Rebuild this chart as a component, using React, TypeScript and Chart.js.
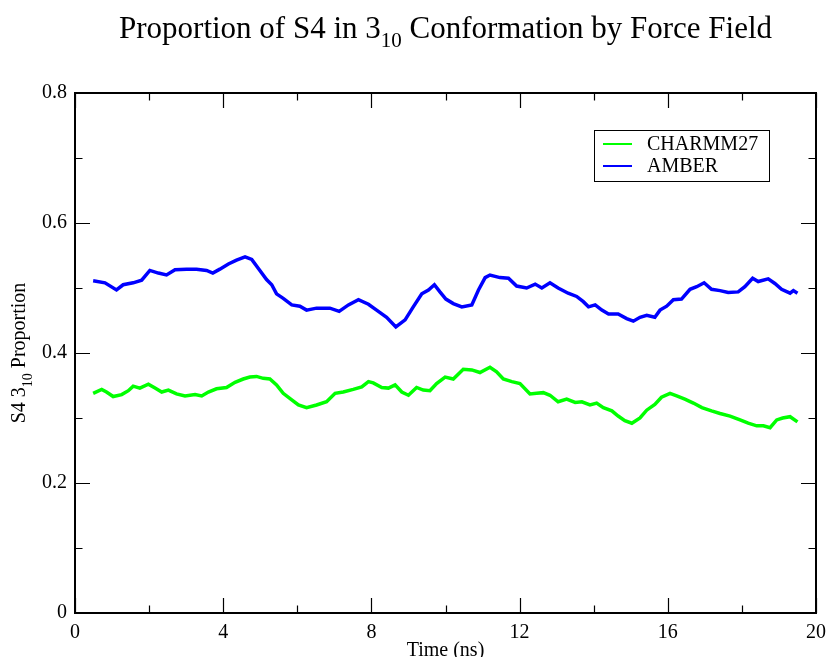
import React, { useEffect, useRef } from 'react';
import { Chart, registerables } from 'chart.js';

Chart.register(...registerables);

const FONT = '"Liberation Serif", "Times New Roman", Times, serif';

// ---- text ----
const titleMain = 'Proportion of S4 in 3';
const titleSub = '10';
const titleRest = ' Conformation by Force Field';
const xAxisLabel = 'Time (ns)';
const yLabelMain = 'S4 3';
const yLabelSub = '10';
const yLabelRest = ' Proportion';
const seriesNames = ['CHARMM27', 'AMBER'];
const seriesColors = ['#00ff00', '#0000ff'];

// ---- ticks ----
const xMajorTicks = [0, 4, 8, 12, 16, 20];
const xMinorTicks = [2, 6, 10, 14, 18];
const yMajorTicks = [0, 0.2, 0.4, 0.6, 0.8];
const yMinorTicks = [0.1, 0.3, 0.5, 0.7];

// ---- data ----
const charmmTime = [
  0.49, 0.72, 0.85, 1.03, 1.26, 1.44, 1.57, 1.75, 1.98, 2.16, 2.34, 2.52, 2.74, 2.97, 3.24, 3.42,
  3.60, 3.82, 4.09, 4.32, 4.54, 4.72, 4.90, 5.08, 5.26, 5.44, 5.62, 5.85, 6.03, 6.25, 6.52, 6.79,
  7.02, 7.24, 7.51, 7.74, 7.92, 8.05, 8.28, 8.46, 8.64, 8.82, 9.00, 9.22, 9.40, 9.58, 9.76, 9.99,
  10.21, 10.48, 10.71, 10.93, 11.20, 11.38, 11.56, 11.79, 12.01, 12.28, 12.46, 12.64, 12.82, 13.04,
  13.27, 13.50, 13.68, 13.90, 14.08, 14.26, 14.49, 14.66, 14.84, 15.03, 15.25, 15.43, 15.65, 15.83,
  16.06, 16.24, 16.46, 16.69, 16.92, 17.18, 17.41, 17.68, 17.95, 18.17, 18.40, 18.58, 18.76, 18.94,
  19.10, 19.30, 19.50,
];
const charmmValue = [
  0.338, 0.344, 0.340, 0.333, 0.336, 0.342, 0.349, 0.346, 0.352, 0.346, 0.340, 0.343, 0.337, 0.334, 0.336, 0.334,
  0.340, 0.345, 0.347, 0.355, 0.360, 0.363, 0.364, 0.361, 0.360, 0.351, 0.338, 0.328, 0.320, 0.316, 0.320, 0.325,
  0.338, 0.340, 0.344, 0.348, 0.356, 0.354, 0.347, 0.346, 0.351, 0.340, 0.335, 0.347, 0.343, 0.342, 0.353, 0.363,
  0.360, 0.375, 0.374, 0.370, 0.378, 0.371, 0.360, 0.356, 0.353, 0.337, 0.338, 0.339, 0.335, 0.325,
  0.329, 0.324, 0.325, 0.320, 0.323, 0.316, 0.311, 0.303, 0.296, 0.292, 0.300, 0.312, 0.321, 0.332,
  0.338, 0.334, 0.329, 0.323, 0.316, 0.311, 0.307, 0.303, 0.297, 0.292, 0.288, 0.288, 0.285, 0.297,
  0.300, 0.302, 0.294,
];

const amberTime = [
  0.49, 0.81, 1.12, 1.30, 1.57, 1.80, 2.02, 2.25, 2.47, 2.70, 3.01, 3.28, 3.55, 3.72, 3.91, 4.14,
  4.36, 4.59, 4.77, 4.95, 5.17, 5.31, 5.44, 5.62, 5.85, 6.07, 6.25, 6.52, 6.88, 7.13, 7.38, 7.65,
  7.92, 8.14, 8.41, 8.66, 8.91, 9.13, 9.36, 9.54, 9.70, 9.85, 10.01, 10.21, 10.44, 10.71, 10.89, 11.07,
  11.20, 11.47, 11.70, 11.92, 12.19, 12.42, 12.60, 12.82, 13.04, 13.31, 13.54, 13.72, 13.86, 14.04,
  14.22, 14.40, 14.66, 14.89, 15.07, 15.25, 15.43, 15.65, 15.79, 15.97, 16.15, 16.37, 16.60, 16.78,
  16.98, 17.18, 17.41, 17.63, 17.90, 18.08, 18.29, 18.44, 18.71, 18.89, 19.07, 19.30, 19.39, 19.50,
];
const amberValue = [
  0.511, 0.508, 0.497, 0.505, 0.508, 0.512, 0.527, 0.523, 0.520, 0.528, 0.529, 0.529, 0.527, 0.523, 0.529, 0.537,
  0.543, 0.548, 0.544, 0.530, 0.513, 0.505, 0.491, 0.484, 0.474, 0.472, 0.466, 0.469, 0.469, 0.464, 0.474, 0.482,
  0.475, 0.466, 0.455, 0.440, 0.451, 0.471, 0.491, 0.497, 0.505, 0.494, 0.483, 0.476, 0.471, 0.474, 0.497, 0.516,
  0.520, 0.516, 0.515, 0.503, 0.500, 0.506, 0.500, 0.508, 0.500, 0.492, 0.487, 0.479, 0.471, 0.474,
  0.466, 0.460, 0.460, 0.453, 0.449, 0.455, 0.458, 0.455, 0.466, 0.472, 0.482, 0.483, 0.498, 0.502,
  0.508, 0.498, 0.496, 0.493, 0.494, 0.502, 0.515, 0.510, 0.514, 0.507, 0.498, 0.492, 0.496, 0.492,
];

const toPoints = (xs: number[], ys: number[]) => xs.map((x, i) => ({ x, y: ys[i] }));

const decorPlugin = {
  id: 'decor',
  afterDraw(chart: any) {
    const ctx: CanvasRenderingContext2D = chart.ctx;
    const { left, right, top, bottom } = chart.chartArea;
    const xs = chart.scales.x;
    const ys = chart.scales.y;
    ctx.save();

    // ticks (inward, all four sides)
    ctx.strokeStyle = '#000';
    ctx.lineWidth = 1.2;
    const major = 15;
    const minor = 7.5;
    const drawX = (v: number, len: number) => {
      const px = Math.round(xs.getPixelForValue(v)) + 0.5;
      ctx.beginPath();
      ctx.moveTo(px, bottom);
      ctx.lineTo(px, bottom - len);
      ctx.moveTo(px, top);
      ctx.lineTo(px, top + len);
      ctx.stroke();
    };
    const drawY = (v: number, len: number) => {
      const py = Math.round(ys.getPixelForValue(v)) + 0.5;
      ctx.beginPath();
      ctx.moveTo(left, py);
      ctx.lineTo(left + len, py);
      ctx.moveTo(right, py);
      ctx.lineTo(right - len, py);
      ctx.stroke();
    };
    xMajorTicks.forEach((v) => drawX(v, major));
    xMinorTicks.forEach((v) => drawX(v, minor));
    yMajorTicks.forEach((v) => drawY(v, major));
    yMinorTicks.forEach((v) => drawY(v, minor));

    // frame
    ctx.lineWidth = 2;
    ctx.strokeRect(left, top, right - left, bottom - top);

    // legend
    ctx.lineWidth = 1;
    ctx.strokeStyle = '#000';
    ctx.strokeRect(594.5, 130.5, 175, 51);
    ctx.font = `20px ${FONT}`;
    ctx.fillStyle = '#000';
    ctx.textBaseline = 'middle';
    ctx.textAlign = 'left';
    const legendY = [144, 166];
    chart.data.datasets.forEach((ds: any, i: number) => {
      ctx.strokeStyle = ds.borderColor;
      ctx.lineWidth = 2;
      ctx.beginPath();
      ctx.moveTo(603, legendY[i]);
      ctx.lineTo(632, legendY[i]);
      ctx.stroke();
      ctx.fillText(ds.label, 647, legendY[i] + 1);
    });

    // title with subscript
    ctx.textBaseline = 'alphabetic';
    const cx = (left + right) / 2;
    ctx.font = `31px ${FONT}`;
    const w1 = ctx.measureText(titleMain).width;
    const w3 = ctx.measureText(titleRest).width;
    ctx.font = `21px ${FONT}`;
    const w2 = ctx.measureText(titleSub).width;
    let tx = cx - (w1 + w2 + w3) / 2;
    const tBase = 38;
    ctx.font = `31px ${FONT}`;
    ctx.fillText(titleMain, tx, tBase);
    tx += w1;
    ctx.font = `21px ${FONT}`;
    ctx.fillText(titleSub, tx, tBase + 9);
    tx += w2;
    ctx.font = `31px ${FONT}`;
    ctx.fillText(titleRest, tx, tBase);

    // x axis title
    ctx.font = `20px ${FONT}`;
    ctx.textAlign = 'center';
    ctx.fillText(xAxisLabel, cx, 656);

    // y axis title (rotated, with subscript)
    ctx.save();
    ctx.translate(25, (top + bottom) / 2);
    ctx.rotate(-Math.PI / 2);
    ctx.textAlign = 'left';
    ctx.font = `20px ${FONT}`;
    const a1 = ctx.measureText(yLabelMain).width;
    const a3 = ctx.measureText(yLabelRest).width;
    ctx.font = `14px ${FONT}`;
    const a2 = ctx.measureText(yLabelSub).width;
    let ax = -(a1 + a2 + a3) / 2;
    ctx.font = `20px ${FONT}`;
    ctx.fillText(yLabelMain, ax, 0);
    ax += a1;
    ctx.font = `14px ${FONT}`;
    ctx.fillText(yLabelSub, ax, 7);
    ax += a2;
    ctx.font = `20px ${FONT}`;
    ctx.fillText(yLabelRest, ax, 0);
    ctx.restore();

    ctx.restore();
  },
};

export default function App() {
  const canvasRef = useRef<HTMLCanvasElement | null>(null);

  useEffect(() => {
    if (!canvasRef.current) return;
    const chart = new Chart(canvasRef.current, {
      type: 'line',
      data: {
        datasets: [
          {
            label: seriesNames[0],
            data: toPoints(charmmTime, charmmValue),
            borderColor: seriesColors[0],
            backgroundColor: seriesColors[0],
            borderWidth: 3.5,
            pointRadius: 0,
            tension: 0,
            fill: false,
          },
          {
            label: seriesNames[1],
            data: toPoints(amberTime, amberValue),
            borderColor: seriesColors[1],
            backgroundColor: seriesColors[1],
            borderWidth: 3.5,
            pointRadius: 0,
            tension: 0,
            fill: false,
          },
        ],
      },
      options: {
        animation: false,
        responsive: false,
        maintainAspectRatio: false,
        devicePixelRatio: 1,
        layout: { padding: { left: 0, right: 12, top: 93, bottom: 0 } },
        plugins: {
          legend: { display: false },
          title: { display: false },
          tooltip: { enabled: false },
        },
        scales: {
          x: {
            type: 'linear',
            min: 0,
            max: 20,
            grid: { display: false, drawTicks: false },
            border: { display: false },
            ticks: {
              padding: 8,
              color: '#000',
              font: { family: FONT, size: 20 },
              callback: (v: any) => String(v),
            },
            afterBuildTicks: (s: any) => {
              s.ticks = xMajorTicks.map((v) => ({ value: v }));
            },
            afterFit: (s: any) => {
              s.height = 44;
              s.paddingLeft = 0;
              s.paddingRight = 0;
            },
          },
          y: {
            type: 'linear',
            min: 0,
            max: 0.8,
            grid: { display: false, drawTicks: false },
            border: { display: false },
            ticks: {
              padding: 8,
              color: '#000',
              font: { family: FONT, size: 20 },
              callback: (v: any) => (v === 0 ? '0' : Number(v).toFixed(1)),
            },
            afterBuildTicks: (s: any) => {
              s.ticks = yMajorTicks.map((v) => ({ value: v }));
            },
            afterFit: (s: any) => {
              s.width = 75;
              s.paddingTop = 0;
              s.paddingBottom = 0;
            },
          },
        },
      } as any,
      plugins: [decorPlugin],
    });
    return () => chart.destroy();
  }, []);

  return (
    <div style={{ position: 'absolute', left: 0, top: 0, width: 828, height: 657, background: '#fff' }}>
      <canvas ref={canvasRef} width={828} height={657} style={{ width: 828, height: 657, display: 'block' }} />
    </div>
  );
}
